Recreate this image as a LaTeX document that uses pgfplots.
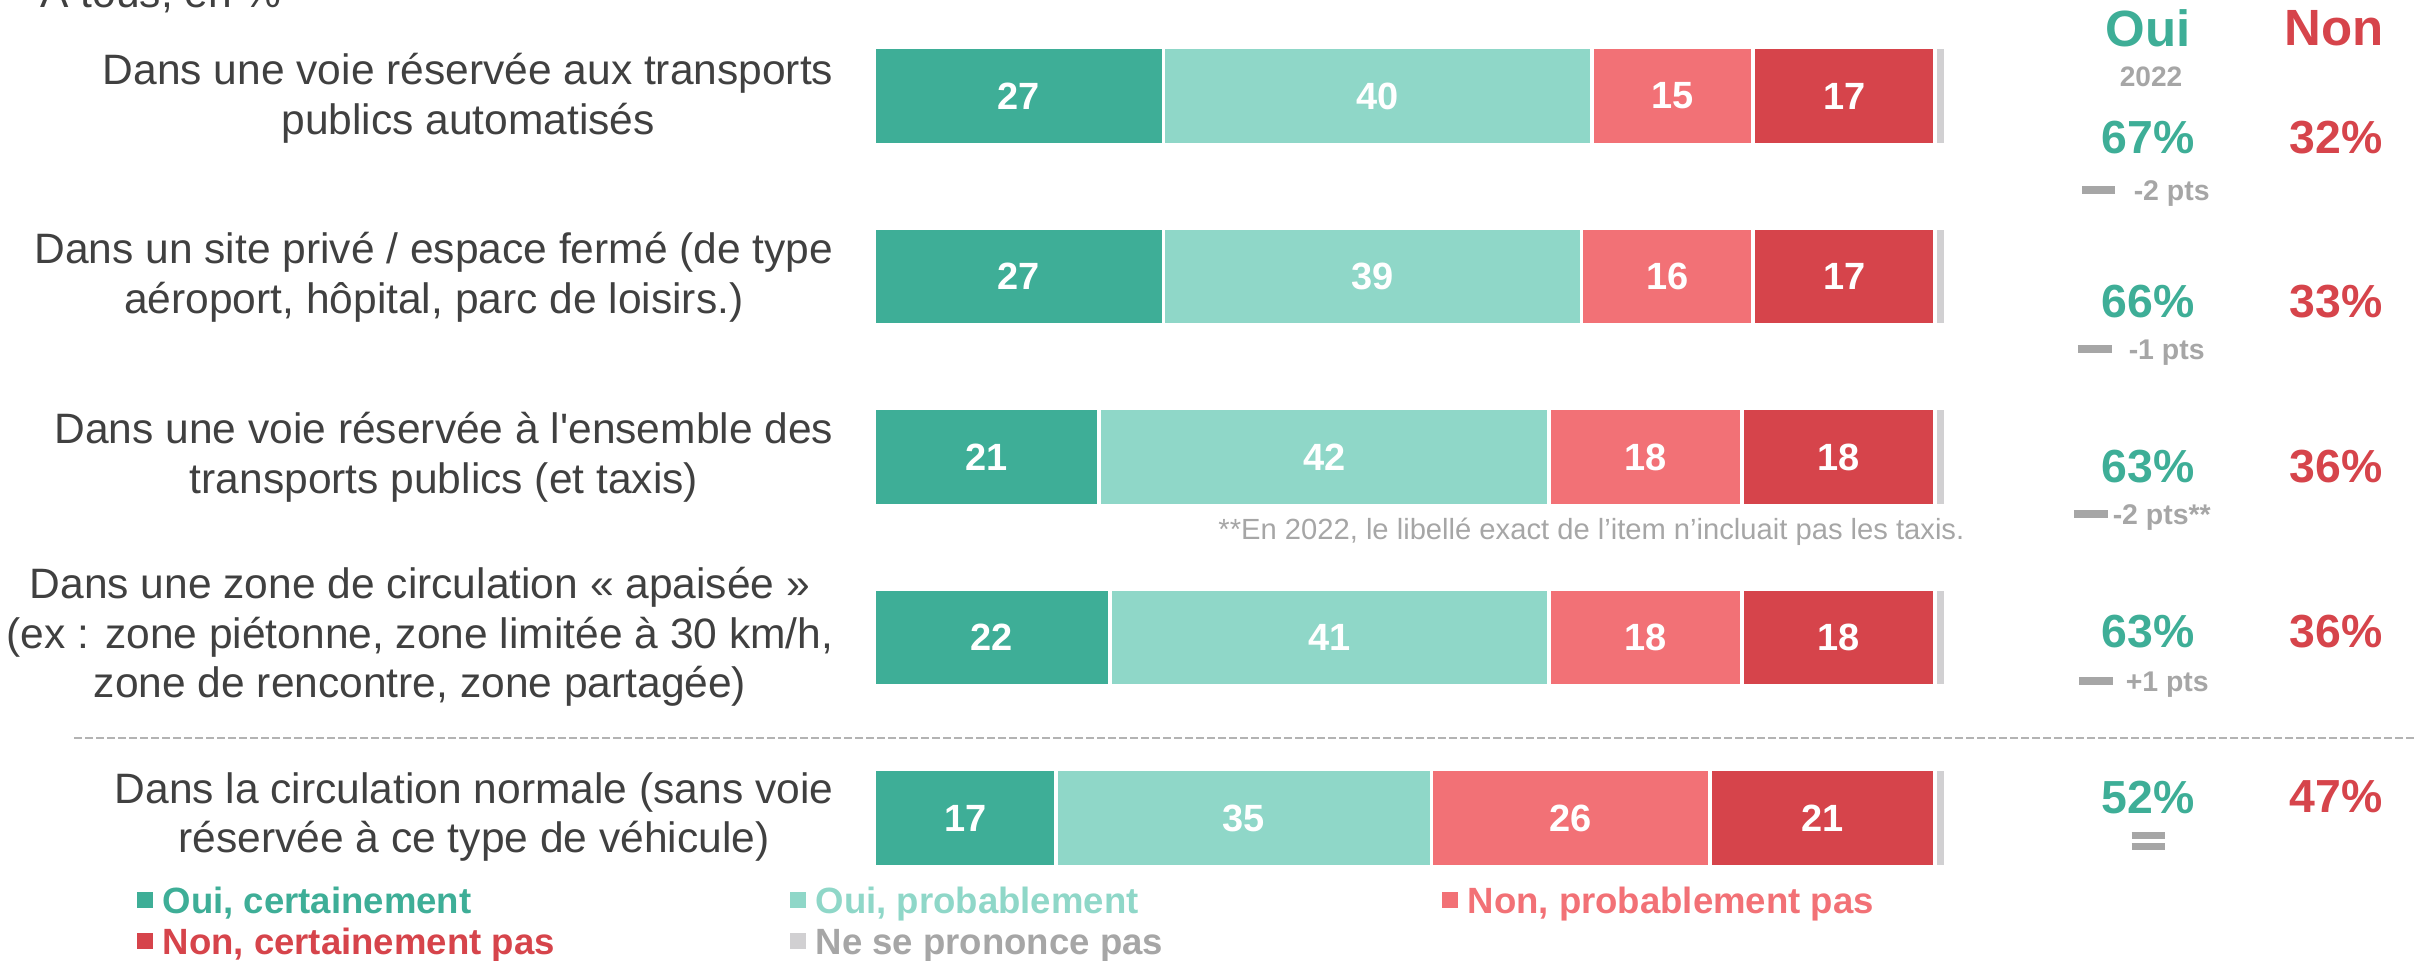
\documentclass[border=0pt]{standalone}
\usepackage{pgfplots}
\pgfplotsset{compat=1.18}
\usepackage{pgfplotstable}
\usepackage{fontspec}
\setmainfont{Liberation Sans}
\definecolor{cOC}{HTML}{3EAE97}
\definecolor{cOP}{HTML}{8FD7C8}
\definecolor{cNP}{HTML}{F27176}
\definecolor{cNC}{HTML}{D6444B}
\definecolor{cNSP}{HTML}{D1D0D2}
\definecolor{txt}{HTML}{404040}
\definecolor{gry}{HTML}{A6A6A6}
\definecolor{sepc}{HTML}{B3B3B3}

\pgfplotstableread{
cat oc op np nc nsp
0 27 40 15 17 1
1 27 39 16 17 1
2 21 42 18 18 1
3 22 41 18 18 1
4 17 35 26 21 1
}\data

\begin{document}
\begin{tikzpicture}
\begin{axis}[
  at={(0,0)}, anchor=north west,
  scale only axis, width=24.17cm, height=9.6cm,
  xmin=-81.53, xmax=143.94,
  ymin=-0.532, ymax=4.787, y dir=reverse,
  hide axis,
  xbar stacked, bar width=0.54,
  clip=false,
  point meta=explicit,
  /pgf/number format/assume math mode=true,
  nodes near coords={\pgfmathprintnumber{\pgfplotspointmeta}},
  every node near coord/.append style={anchor=center, text=white,
     font=\fontsize{10.8}{12}\selectfont\bfseries},
]
\addplot[fill=cOC, draw=white, line width=1.1pt] table[x=oc, y=cat, meta=oc]{\data};
\addplot[fill=cOP, draw=white, line width=1.1pt] table[x=op, y=cat, meta=op]{\data};
\addplot[fill=cNP, draw=white, line width=1.1pt] table[x=np, y=cat, meta=np]{\data};
\addplot[fill=cNC, draw=white, line width=1.1pt] table[x=nc, y=cat, meta=nc]{\data};
\addplot[fill=cNSP, draw=white, line width=1.1pt, nodes near coords={}] table[x=nsp, y=cat, meta=nsp]{\data};
\end{axis}

\begin{scope}[x=0.1mm, y=-0.1mm]
% header
\node[anchor=base west, inner sep=0, font=\fontsize{12.1}{14.1}\selectfont, text=txt] at (40,7) {À tous, en \%};
% category labels
\begin{scope}[every node/.style={anchor=east, align=center, inner sep=0, font=\fontsize{12.1}{14.1}\selectfont, text=txt}]
\node at (834,98) {Dans une voie réservée aux transports\\publics automatisés};
\node at (834,277) {Dans un site privé / espace fermé (de type\\aéroport, hôpital, parc de loisirs.)};
\node at (834,457) {Dans une voie réservée à l\textquotesingle ensemble des\\transports publics (et taxis)};
\node at (834,637) {Dans une zone de circulation « apaisée »\\(ex : zone piétonne, zone limitée à 30 km/h,\\zone de rencontre, zone partagée)};
\node at (834,817) {Dans la circulation normale (sans voie\\réservée à ce type de véhicule)};
\end{scope}
% separator
\draw[sepc, line width=0.6pt, dash pattern=on 0.75mm off 0.35mm] (74,738) -- (2417,738);
% footnote
\node[anchor=east, inner sep=0, font=\fontsize{8.3}{10}\selectfont, text=gry] at (1965,532) {**En 2022, le libellé exact de l’item n’incluait pas les taxis.};
% right column headers
\node[inner sep=0, font=\fontsize{14.5}{16}\selectfont\bfseries, text=cOC] at (2148,28) {Oui};
\node[inner sep=0, font=\fontsize{14.5}{16}\selectfont\bfseries, text=cNC] at (2334,28) {Non};
\node[inner sep=0, font=\fontsize{8}{9}\selectfont\bfseries, text=gry] at (2151,77) {2022};
% percentages
\begin{scope}[every node/.style={inner sep=0, font=\fontsize{13.2}{15}\selectfont\bfseries}]
\node[text=cOC] at (2148,138) {67\%}; \node[text=cNC] at (2336,138) {32\%};
\node[text=cOC] at (2148,302) {66\%}; \node[text=cNC] at (2336,302) {33\%};
\node[text=cOC] at (2148,467) {63\%}; \node[text=cNC] at (2336,467) {36\%};
\node[text=cOC] at (2148,632) {63\%}; \node[text=cNC] at (2336,632) {36\%};
\node[text=cOC] at (2148,797) {52\%}; \node[text=cNC] at (2336,797) {47\%};
\end{scope}
% evolutions
\begin{scope}[every node/.style={anchor=base west, inner sep=0, font=\fontsize{8.1}{9}\selectfont\bfseries, text=gry}]
\node at (2081,200) {\rule[1.8pt]{3.3mm}{0.75mm}\hspace{1.9mm}-2 pts};
\node at (2077,359) {\rule[1.8pt]{3.4mm}{0.75mm}\hspace{1.7mm}-1 pts};
\node at (2073,524) {\rule[1.8pt]{3.4mm}{0.75mm}\hspace{0.5mm}-2 pts**};
\node at (2078,691) {\rule[1.8pt]{3.4mm}{0.75mm}\hspace{1.3mm}+1 pts};
\end{scope}
\node[inner sep=0, text=gry] at (2148,841) {\vbox{\hrule width 3.3mm height 0.7mm \vskip 0.4mm \hrule width 3.3mm height 0.7mm}};
% legend
\begin{scope}[every node/.style={anchor=base west, inner sep=0, font=\fontsize{10.4}{12}\selectfont\bfseries}]
\node at (136,913) {\textcolor{cOC}{\rule[0.52mm]{1.6mm}{1.6mm}}\hspace{1mm}\textcolor{cOC}{Oui, certainement}};
\node at (789,913) {\textcolor{cOP}{\rule[0.52mm]{1.6mm}{1.6mm}}\hspace{1mm}\textcolor{cOP}{Oui, probablement}};
\node at (1441,913) {\textcolor{cNP}{\rule[0.52mm]{1.6mm}{1.6mm}}\hspace{1mm}\textcolor{cNP}{Non, probablement pas}};
\node at (136,954) {\textcolor{cNC}{\rule[0.52mm]{1.6mm}{1.6mm}}\hspace{1mm}\textcolor{cNC}{Non, certainement pas}};
\node at (789,954) {\textcolor{cNSP}{\rule[0.52mm]{1.6mm}{1.6mm}}\hspace{1mm}\textcolor{gry}{Ne se prononce pas}};
\end{scope}
\end{scope}
\pgfresetboundingbox
\useasboundingbox (0,0) rectangle (24.17,-9.6);
\end{tikzpicture}
\end{document}
